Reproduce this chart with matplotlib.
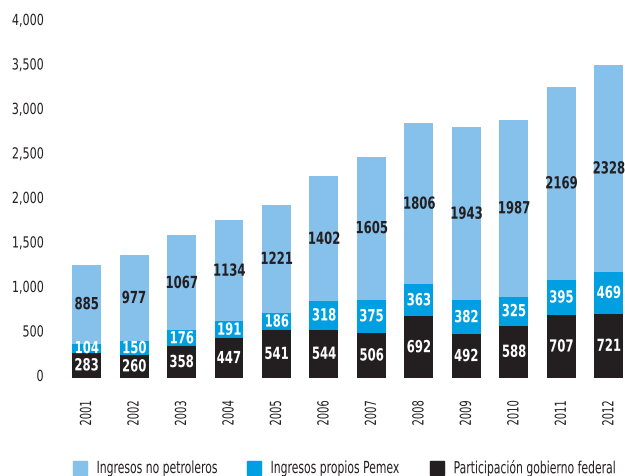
import matplotlib
matplotlib.use("Agg")
import matplotlib.pyplot as plt
from matplotlib.patches import Rectangle
from matplotlib.patheffects import AbstractPathEffect
from matplotlib.transforms import Affine2D, ScaledTranslation
import numpy as np

years = ["2001", "2002", "2003", "2004", "2005", "2006",
         "2007", "2008", "2009", "2010", "2011", "2012"]
gobierno = [283, 260, 358, 447, 541, 544, 506, 692, 492, 588, 707, 721]
pemex = [104, 150, 176, 191, 186, 318, 375, 363, 382, 325, 395, 469]
no_petroleros = [885, 977, 1067, 1134, 1221, 1402, 1605, 1806, 1943, 1987, 2169, 2328]
series_names = ["Ingresos no petroleros", "Ingresos propios Pemex",
                "Participación gobierno federal"]

c_no_pet = '#85c1eb'
c_pemex = '#009fe2'
c_gob = '#231f20'


class Narrow(AbstractPathEffect):
    """Squeeze glyphs horizontally to fake a condensed typeface."""

    def __init__(self, sx=0.75, anchor='center'):
        super().__init__()
        self.sx = sx
        self.anchor = anchor

    def draw_path(self, renderer, gc, tpath, affine, rgbFace=None):
        ext = tpath.get_extents()
        if self.anchor == 'left':
            cx = ext.x0
        elif self.anchor == 'right':
            cx = ext.x1
        else:
            cx = (ext.x0 + ext.x1) / 2
        t = Affine2D().translate(-cx, 0).scale(self.sx, 1).translate(cx, 0) + affine
        renderer.draw_path(gc, tpath, t, rgbFace)


fig = plt.figure(figsize=(6.25, 4.77), dpi=100)
ax = fig.add_axes([0.08, 0.2055, 0.92, 0.7463])

x = np.arange(len(years))
w = 0.61
gob = np.array(gobierno)
pem = np.array(pemex)
nop = np.array(no_petroleros)

ax.bar(x, gob, w, color=c_gob)
ax.bar(x, pem, w, bottom=gob, color=c_pemex)
ax.bar(x, nop, w, bottom=gob + pem, color=c_no_pet)

# value labels centred in each segment
lab_fx = [Narrow(0.70, 'center')]
for i in range(len(years)):
    segs = [(gob[i] / 2, gob[i], 'white'),
            (gob[i] + pem[i] / 2, pem[i], 'white'),
            (gob[i] + pem[i] + nop[i] / 2, nop[i], c_gob)]
    for ypos, val, col in segs:
        ax.text(x[i], ypos, str(val), ha='center', va='center', color=col,
                fontsize=12, fontweight='bold', path_effects=lab_fx)

ax.set_xlim(-0.77, 11.34)
ax.set_ylim(0, 4000)
ax.set_yticks(np.arange(0, 4001, 500))
ax.set_yticklabels([f"{v:,}" for v in range(0, 4001, 500)], fontsize=11, color=c_gob)
ax.set_xticks(x)
ax.set_xticklabels(years, rotation=90, fontsize=11, color=c_gob)
ax.tick_params(length=0)
ax.tick_params(axis='y', pad=4.5)
ax.tick_params(axis='x', pad=16)
lift = ScaledTranslation(0, 3 / 100, fig.dpi_scale_trans)
for t in ax.get_yticklabels():
    t.set_path_effects([Narrow(0.73, 'right')])
    t.set_transform(t.get_transform() + lift)
for t in ax.get_xticklabels():
    t.set_path_effects([Narrow(0.65, 'right')])
for s in ax.spines.values():
    s.set_visible(False)

# legend row along the bottom
leg_x = [73, 247, 430]
leg_colors = [c_no_pet, c_pemex, c_gob]
W, H = 625, 477
for lx, col, name in zip(leg_x, leg_colors, series_names):
    fig.patches.append(Rectangle((lx / W, 1 - 476 / H), 14 / W, 14 / H,
                                 color=col, transform=fig.transFigure, figure=fig))
    fig.text((lx + 23) / W, 1 - 469 / H, name, ha='left', va='center',
             fontsize=12, color=c_gob, path_effects=[Narrow(0.65, 'left')])

fig.savefig("out.png", dpi=100)
